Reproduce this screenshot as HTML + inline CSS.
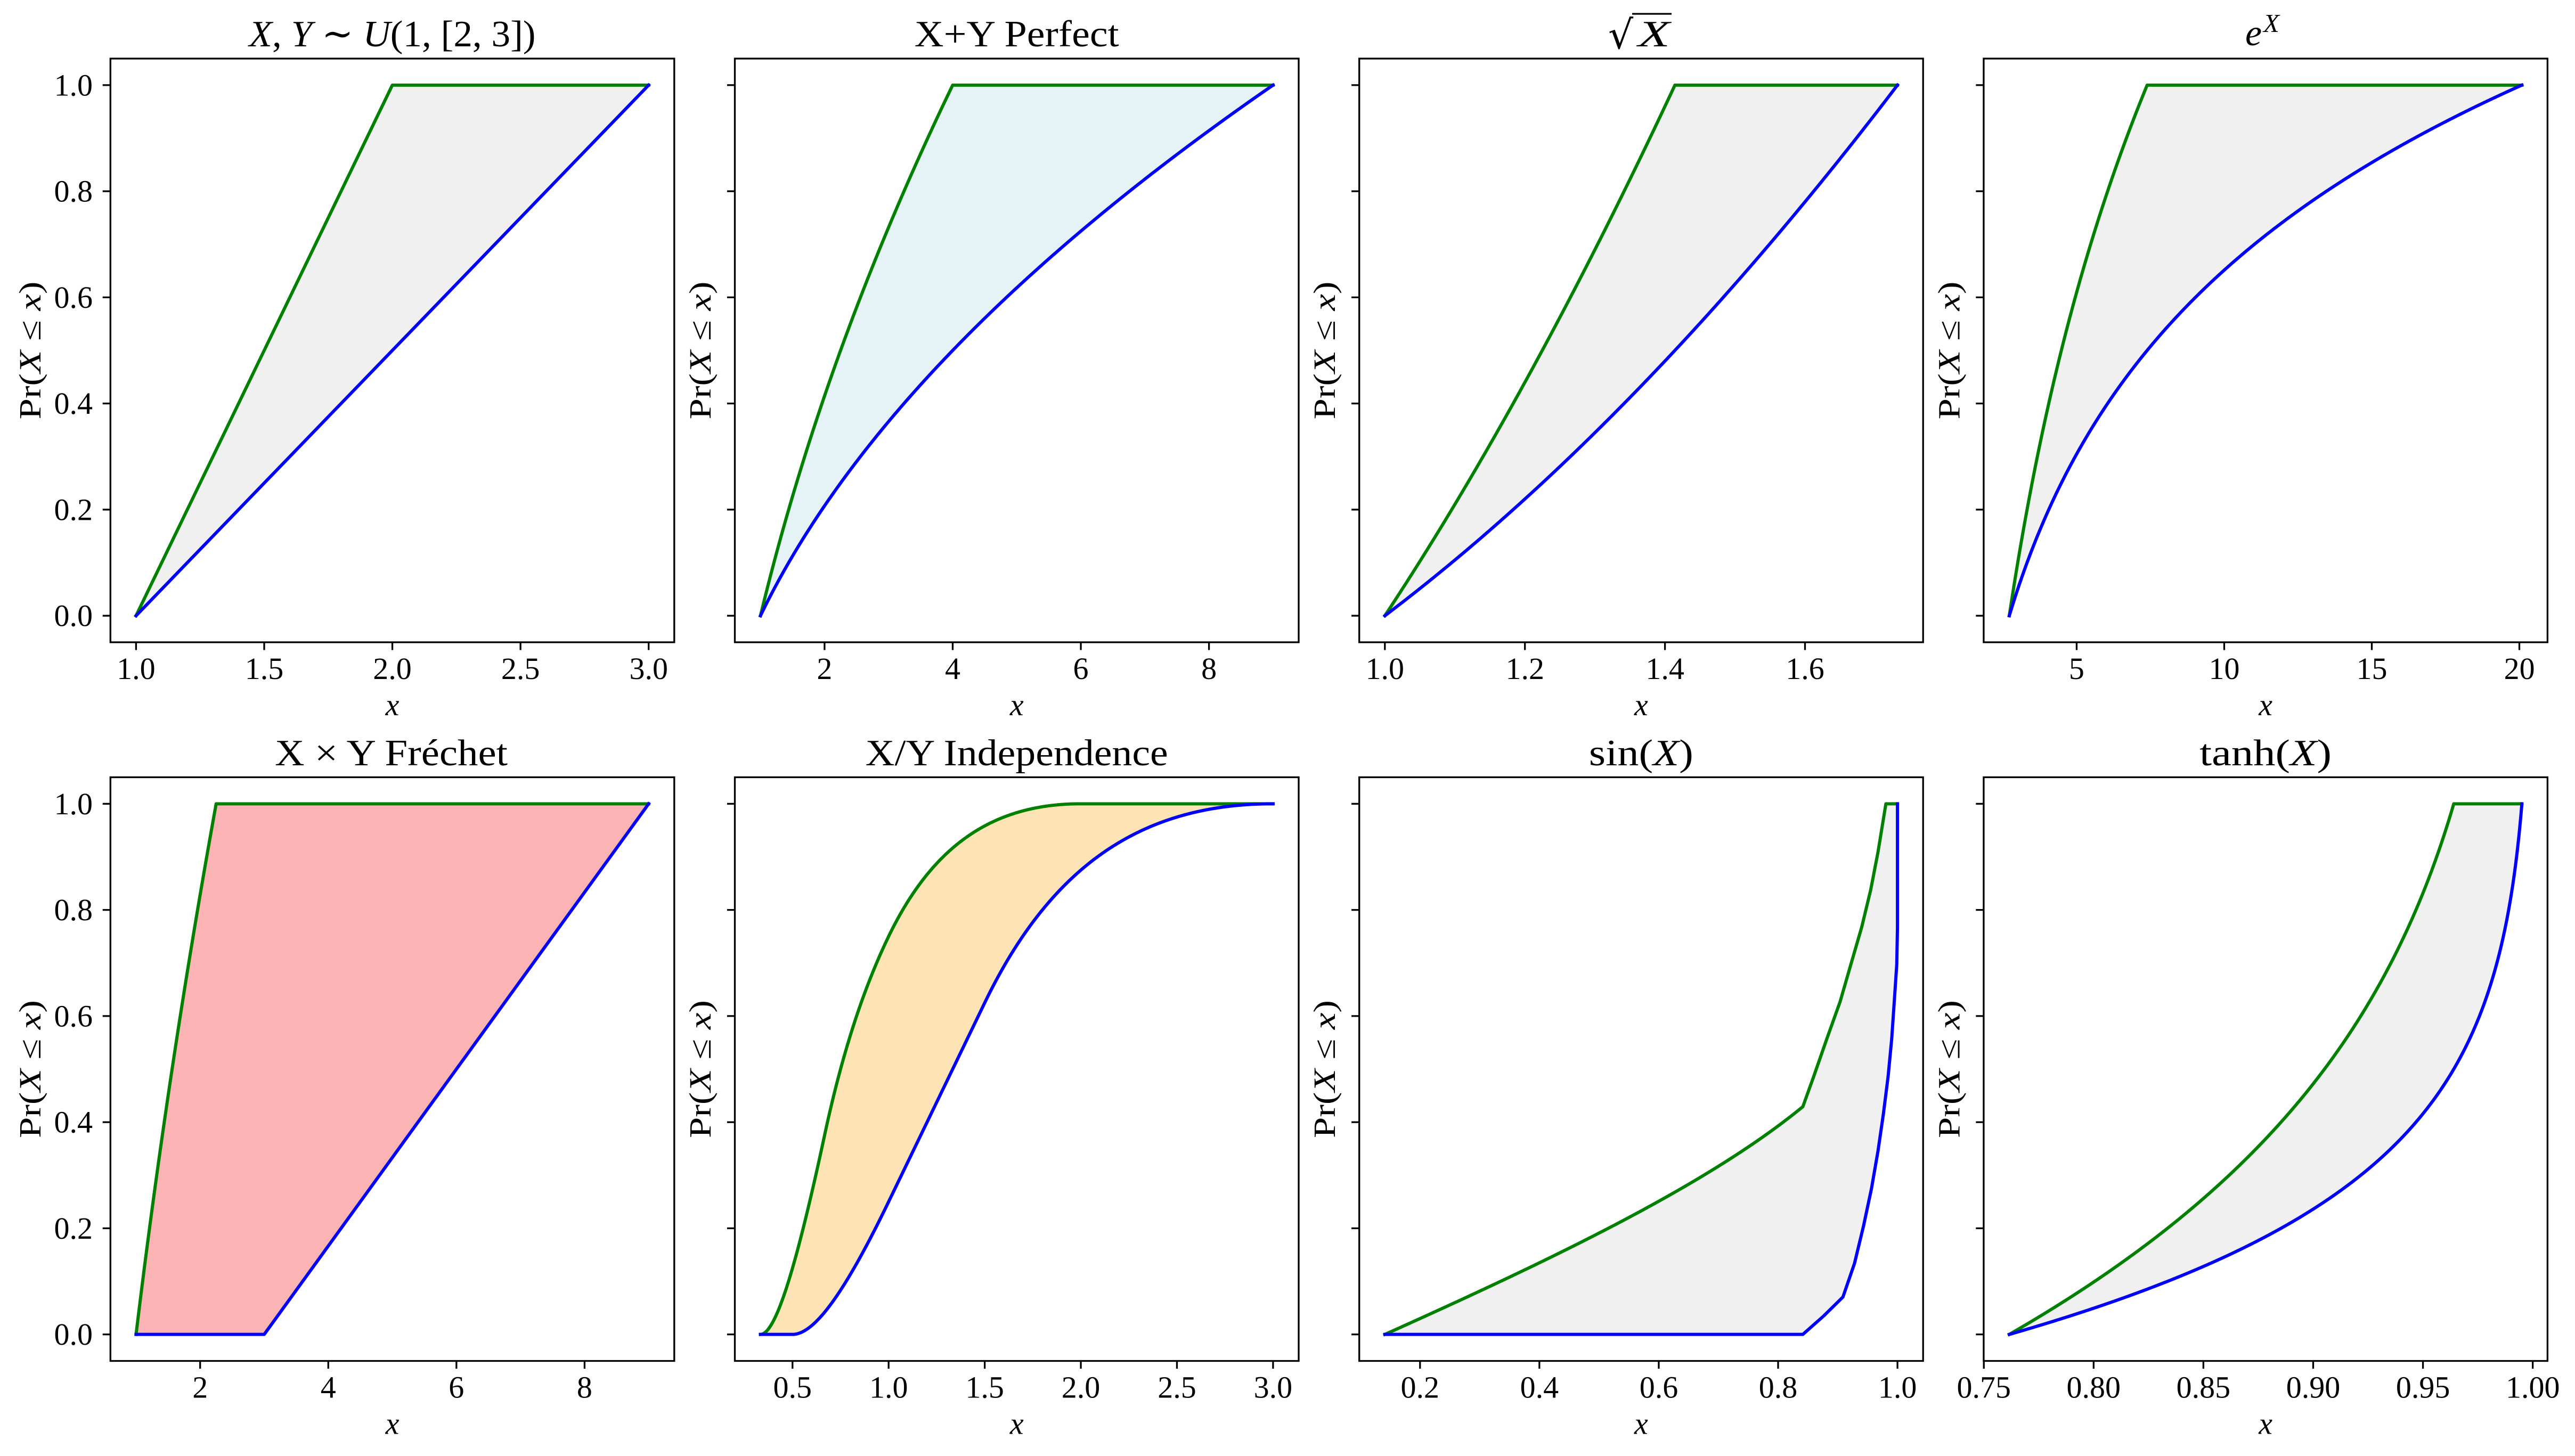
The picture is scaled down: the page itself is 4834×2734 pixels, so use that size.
<!DOCTYPE html>
<html>
<head>
<meta charset="utf-8">
<style>
  html,body{margin:0;padding:0;background:#ffffff;}
  svg{display:block;}
  text{font-family:"Liberation Serif","DejaVu Serif",serif;fill:#000;}
  .it{font-style:italic;}
</style>
</head>
<body>
<svg id="fig" xmlns="http://www.w3.org/2000/svg" width="4834" height="2734" viewBox="0 0 4834 2734">
<rect x="0" y="0" width="4834" height="2734" fill="#ffffff"/>
<g id="plots"></g>

<!-- Titles row 1 -->
<text x="736.5" y="87" font-size="70" text-anchor="middle" textLength="538" lengthAdjust="spacingAndGlyphs"><tspan class="it">X</tspan>, <tspan class="it">Y</tspan> ∼ <tspan class="it">U</tspan>(1, [2, 3])</text>
<text x="1908.7" y="87" font-size="70" text-anchor="middle" textLength="384" lengthAdjust="spacingAndGlyphs">X+Y Perfect</text>
<text x="3019" y="91" font-size="74" font-family="DejaVu Serif" style="font-family:'DejaVu Serif',serif">√</text>
<line x1="3064" y1="26" x2="3138" y2="26" stroke="#000" stroke-width="3.3"/>
<text x="3075" y="87" font-size="70" class="it" textLength="60" lengthAdjust="spacingAndGlyphs">X</text>
<text x="4215" y="85" font-size="70" class="it">e</text>
<text x="4249" y="60" font-size="49" class="it">X</text>

<!-- Titles row 2 -->
<text x="734.5" y="1437" font-size="70" text-anchor="middle" textLength="437" lengthAdjust="spacingAndGlyphs">X × Y Fréchet</text>
<text x="1908.7" y="1437" font-size="70" text-anchor="middle" textLength="568" lengthAdjust="spacingAndGlyphs">X/Y Independence</text>
<text x="3080.9" y="1437" font-size="70" text-anchor="middle" textLength="196" lengthAdjust="spacingAndGlyphs">sin(<tspan class="it">X</tspan>)</text>
<text x="4253.1" y="1437" font-size="70" text-anchor="middle" textLength="248" lengthAdjust="spacingAndGlyphs">tanh(<tspan class="it">X</tspan>)</text>

<!-- Y tick labels (col 1) -->
<g font-size="58" text-anchor="end">
<text x="174" y="179.3">1.0</text>
<text x="174" y="378.6">0.8</text>
<text x="174" y="577.9">0.6</text>
<text x="174" y="777.2">0.4</text>
<text x="174" y="976.5">0.2</text>
<text x="174" y="1175.7">0.0</text>
<text x="174" y="1528.8">1.0</text>
<text x="174" y="1728.1">0.8</text>
<text x="174" y="1927.4">0.6</text>
<text x="174" y="2126.7">0.4</text>
<text x="174" y="2326.0">0.2</text>
<text x="174" y="2525.2">0.0</text>
</g>

<!-- X tick labels row 1 -->
<g font-size="58" text-anchor="middle">
<text x="255.4" y="1275">1.0</text>
<text x="496.0" y="1275">1.5</text>
<text x="736.5" y="1275">2.0</text>
<text x="977.1" y="1275">2.5</text>
<text x="1217.7" y="1275">3.0</text>

<text x="1547.9" y="1275">2</text>
<text x="1788.5" y="1275">4</text>
<text x="2029.0" y="1275">6</text>
<text x="2269.6" y="1275">8</text>

<text x="2599.8" y="1275">1.0</text>
<text x="2862.7" y="1275">1.2</text>
<text x="3125.6" y="1275">1.4</text>
<text x="3388.5" y="1275">1.6</text>

<text x="3898.4" y="1275">5</text>
<text x="4175.5" y="1275">10</text>
<text x="4452.5" y="1275">15</text>
<text x="4729.6" y="1275">20</text>

<!-- X tick labels row 2 -->
<text x="375.7" y="2624.5">2</text>
<text x="616.3" y="2624.5">4</text>
<text x="856.8" y="2624.5">6</text>
<text x="1097.4" y="2624.5">8</text>

<text x="1487.8" y="2624.5">0.5</text>
<text x="1668.2" y="2624.5">1.0</text>
<text x="1848.6" y="2624.5">1.5</text>
<text x="2029.0" y="2624.5">2.0</text>
<text x="2209.5" y="2624.5">2.5</text>
<text x="2389.9" y="2624.5">3.0</text>

<text x="2665.8" y="2624.5">0.2</text>
<text x="2889.9" y="2624.5">0.4</text>
<text x="3114.0" y="2624.5">0.6</text>
<text x="3338.0" y="2624.5">0.8</text>
<text x="3562.1" y="2624.5">1.0</text>

<text x="3724.2" y="2624.5">0.75</text>
<text x="3930.3" y="2624.5">0.80</text>
<text x="4136.4" y="2624.5">0.85</text>
<text x="4342.5" y="2624.5">0.90</text>
<text x="4548.6" y="2624.5">0.95</text>
<text x="4754.7" y="2624.5">1.00</text>
</g>

<!-- X axis labels -->
<g font-size="58" text-anchor="middle" class="it">
<text x="736.5" y="1343">x</text>
<text x="1908.7" y="1343">x</text>
<text x="3080.9" y="1343">x</text>
<text x="4253.1" y="1343">x</text>
<text x="736.5" y="2692.5">x</text>
<text x="1908.7" y="2692.5">x</text>
<text x="3080.9" y="2692.5">x</text>
<text x="4253.1" y="2692.5">x</text>
</g>

<!-- Y axis labels -->
<g font-size="58" text-anchor="middle">
<text transform="translate(76,658) rotate(-90)" textLength="259" lengthAdjust="spacingAndGlyphs">Pr(<tspan class="it">X</tspan> ≤ <tspan class="it">x</tspan>)</text>
<text transform="translate(1334,658) rotate(-90)" textLength="259" lengthAdjust="spacingAndGlyphs">Pr(<tspan class="it">X</tspan> ≤ <tspan class="it">x</tspan>)</text>
<text transform="translate(2506.2,658) rotate(-90)" textLength="259" lengthAdjust="spacingAndGlyphs">Pr(<tspan class="it">X</tspan> ≤ <tspan class="it">x</tspan>)</text>
<text transform="translate(3678.4,658) rotate(-90)" textLength="259" lengthAdjust="spacingAndGlyphs">Pr(<tspan class="it">X</tspan> ≤ <tspan class="it">x</tspan>)</text>
<text transform="translate(76,2007.5) rotate(-90)" textLength="259" lengthAdjust="spacingAndGlyphs">Pr(<tspan class="it">X</tspan> ≤ <tspan class="it">x</tspan>)</text>
<text transform="translate(1334,2007.5) rotate(-90)" textLength="259" lengthAdjust="spacingAndGlyphs">Pr(<tspan class="it">X</tspan> ≤ <tspan class="it">x</tspan>)</text>
<text transform="translate(2506.2,2007.5) rotate(-90)" textLength="259" lengthAdjust="spacingAndGlyphs">Pr(<tspan class="it">X</tspan> ≤ <tspan class="it">x</tspan>)</text>
<text transform="translate(3678.4,2007.5) rotate(-90)" textLength="259" lengthAdjust="spacingAndGlyphs">Pr(<tspan class="it">X</tspan> ≤ <tspan class="it">x</tspan>)</text>
</g>
</svg>

<script>
(function(){
  var NS = "http://www.w3.org/2000/svg";
  var W = 1058.5, H = 1096;
  var Ls = [207.3, 1379.5, 2551.7, 3723.9];
  var Ts = [110, 1459.5];
  var g = document.getElementById('plots');
  function el(tag, attrs){
    var e = document.createElementNS(NS, tag);
    for (var k in attrs) e.setAttribute(k, attrs[k]);
    g.appendChild(e);
    return e;
  }
  function samp(f, a, b, n){
    var r = [];
    for (var i = 0; i <= n; i++){ var x = a + (b - a) * i / n; r.push([x, f(x)]); }
    return r;
  }
  function panel(col, row, x0, x1, xt, G, B, fill){
    var L = Ls[col], T = Ts[row];
    var px = function(x){ return L + (x - x0) / (x1 - x0) * W; };
    var py = function(y){ return T + (1.05 - y) / 1.1 * H; };
    var pts = function(a){ return a.map(function(p){ return px(p[0]).toFixed(2) + ',' + py(p[1]).toFixed(2); }); };
    el('polygon', {points: pts(G).concat(pts(B.slice().reverse())).join(' '), fill: fill, stroke: 'none'});
    el('polyline', {points: pts(G).join(' '), fill: 'none', stroke: '#008000', 'stroke-width': 6, 'stroke-linejoin': 'round', 'stroke-linecap': 'square'});
    el('polyline', {points: pts(B).join(' '), fill: 'none', stroke: '#0000ff', 'stroke-width': 6, 'stroke-linejoin': 'round', 'stroke-linecap': 'square'});
    for (var i = 0; i <= 5; i++){
      var y = py(i * 0.2);
      el('line', {x1: L - 14.6, x2: L, y1: y, y2: y, stroke: '#000', 'stroke-width': 3.3});
    }
    xt.forEach(function(v){
      var x = px(v);
      el('line', {x1: x, x2: x, y1: T + H, y2: T + H + 14.6, stroke: '#000', 'stroke-width': 3.3});
    });
    el('rect', {x: L, y: T, width: W, height: H, fill: 'none', stroke: '#000', 'stroke-width': 3.3});
  }

  var GRAY = '#f0f0f0';
  var S2 = Math.SQRT2, S3 = Math.sqrt(3), E = Math.E;
  function atanh(x){ return 0.5 * Math.log((1 + x) / (1 - x)); }

  // P1
  panel(0, 0, 0.9, 3.1, [1, 1.5, 2, 2.5, 3],
        [[1,0],[2,1],[3,1]], [[1,0],[3,1]], GRAY);
  // P2
  panel(1, 0, 0.6, 9.4, [2, 4, 6, 8],
        samp(function(x){ return Math.min(Math.sqrt(x) - 1, 1); }, 1, 9, 400),
        samp(function(x){ return (Math.sqrt(x) - 1) / 2; }, 1, 9, 400), '#e5f3f7');
  // P3
  panel(2, 0, 1 - 0.036603, S3 + 0.036603, [1.0, 1.2, 1.4, 1.6],
        samp(function(x){ return x * x - 1; }, 1, S2, 200).concat([[S3, 1]]),
        samp(function(x){ return (x * x - 1) / 2; }, 1, S3, 300), GRAY);
  // P4
  var e1 = E, e2 = Math.exp(2), e3 = Math.exp(3), m4 = (e3 - e1) * 0.05;
  panel(3, 0, e1 - m4, e3 + m4, [5, 10, 15, 20],
        samp(function(x){ return Math.log(x) - 1; }, e1, e2, 300).concat([[e3, 1]]),
        samp(function(x){ return (Math.log(x) - 1) / 2; }, e1, e3, 500), GRAY);
  // P5
  panel(0, 1, 0.6, 9.4, [2, 4, 6, 8],
        samp(function(z){ return 2 * Math.sqrt(z) - 2; }, 1, 2.25, 100).concat([[9, 1]]),
        [[1,0],[3,0],[9,1]], '#fcb3b3');
  // P6
  function gf(r){ var n = 400, s = 0; for (var i = 0; i < n; i++){ var y = 1 + 2 * (i + 0.5) / n; s += Math.min(Math.max(r * y - 1, 0), 1); } return s / n; }
  function bf(r){ var n = 400, s = 0; for (var i = 0; i < n; i++){ var y = 1 + (i + 0.5) / n; s += Math.min(Math.max((r * y - 1) / 2, 0), 1); } return s / n; }
  panel(1, 1, 0.2, 3 + 0.133333, [0.5, 1.0, 1.5, 2.0, 2.5, 3.0],
        samp(gf, 1/3, 3, 400), samp(bf, 1/3, 3, 400), '#fee4b4');
  // P7
  var s3 = Math.sin(3), s1 = Math.sin(1), m7 = (1 - s3) * 0.05;
  var G7 = samp(function(s){ return (3 - Math.PI + Math.asin(s)) / 2; }, s3, s1, 200).concat([
    [0.8596,0.4859],[0.8814,0.5563],[0.9038,0.6268],[0.9219,0.6972],[0.9401,0.7676],
    [0.9552,0.8380],[0.9673,0.9085],[0.9806,1.0],[1.0,1.0]]);
  var B7 = [[s3,0],[0.8415,0],[0.8766,0.035],[0.9086,0.0704],[0.9280,0.1338],[0.9431,0.2042],
    [0.9564,0.2746],[0.9673,0.3451],[0.9764,0.4155],[0.9843,0.4859],[0.9903,0.5563],
    [0.9946,0.6268],[0.9988,0.6972],[1.0,0.7676],[1.0,1.0]];
  panel(2, 1, s3 - m7, 1 + m7, [0.2, 0.4, 0.6, 0.8, 1.0], G7, B7, GRAY);
  // P8
  var t1 = Math.tanh(1), t2 = Math.tanh(2), t3 = Math.tanh(3), m8 = (t3 - t1) * 0.05;
  panel(3, 1, t1 - m8, t3 + m8, [0.75, 0.80, 0.85, 0.90, 0.95, 1.00],
        samp(function(x){ return atanh(x) - 1; }, t1, t2, 300).concat([[t3, 1]]),
        samp(function(x){ return (atanh(x) - 1) / 2; }, t1, t3, 500), GRAY);
})();
</script>
</body>
</html>
